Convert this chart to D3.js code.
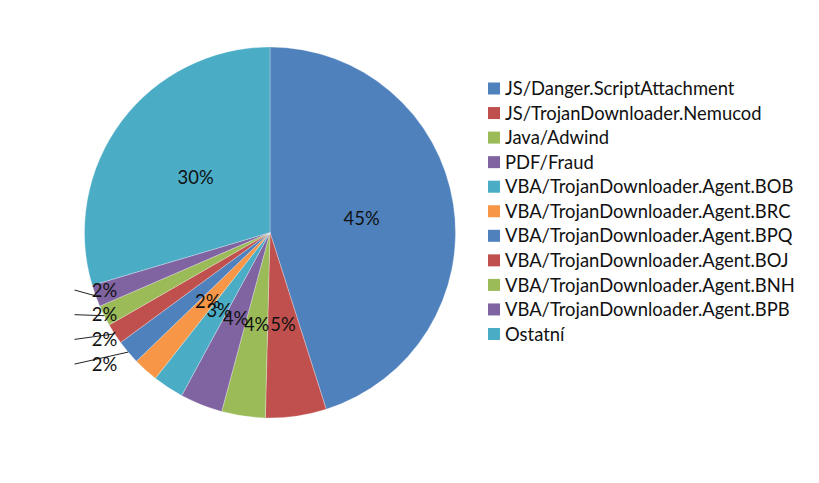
<!DOCTYPE html>
<html><head><meta charset="utf-8">
<script src="https://cdn.jsdelivr.net/npm/d3@7"></script>
<style>body{margin:0;background:#fff}svg{display:block}text{font-family:Lato,"Open Sans",sans-serif}</style>
</head><body><svg id="c" width="819" height="483"></svg>
<script>
const categories = ["JS/Danger.ScriptAttachment","JS/TrojanDownloader.Nemucod","Java/Adwind","PDF/Fraud","VBA/TrojanDownloader.Agent.BOB","VBA/TrojanDownloader.Agent.BRC","VBA/TrojanDownloader.Agent.BPQ","VBA/TrojanDownloader.Agent.BOJ","VBA/TrojanDownloader.Agent.BNH","VBA/TrojanDownloader.Agent.BPB","Ostatní"];
const values = [45.1,5.3,3.8,3.7,2.7,2.2,2.1,1.8,1.8,1.9,29.6];
const colors = ["#4F81BD","#C0504D","#9BBB59","#8064A2","#4BACC6","#F79646","#4F81BD","#C0504D","#9BBB59","#8064A2","#4BACC6"];
const outsideLabels = [9,8,7,6]; // top-to-bottom order of labels placed outside

const svg = d3.select("#c");
const cx = 270, cy = 232.5, r = 185.5, fs = 18.4;
const total = d3.sum(values);
const pie = d3.pie().sort(null).value(d=>d)(values);
const arc = d3.arc().innerRadius(0).outerRadius(r);
const g = svg.append("g").attr("transform",`translate(${cx},${cy})`);
g.selectAll("path").data(pie).join("path").attr("d",arc)
  .attr("fill",(d,i)=>colors[i]).attr("stroke","rgba(255,255,255,0.35)").attr("stroke-width",0.8);
const labelArc = d3.arc().innerRadius(r*0.5).outerRadius(r*0.5);
const fmt = v => Math.round(v/total*100)+"%";
g.selectAll("text.in").data(pie.filter((d,i)=>!outsideLabels.includes(i))).join("text")
  .attr("class","in").attr("transform",d=>`translate(${labelArc.centroid(d)})`)
  .attr("text-anchor","middle").attr("dy","0.36em").attr("font-size",fs).attr("fill","#111")
  .text(d=>fmt(d.value));
// outside labels with leader lines
const lx = -r + 20, ly0 = 57.5, lstep = 24.7;
outsideLabels.forEach((idx,k)=>{
  const d = pie[idx], a = (d.startAngle+d.endAngle)/2;
  const ex = r*Math.sin(a), ey = -r*Math.cos(a);
  const y = ly0 + k*lstep;
  g.append("line").attr("x1",lx-30).attr("y1",y).attr("x2",ex).attr("y2",ey)
    .attr("stroke","#222").attr("stroke-width",1);
  g.append("text").attr("x",lx).attr("y",y).attr("dy","0.36em").attr("text-anchor","middle")
    .attr("font-size",fs).attr("fill","#111").text(fmt(d.value));
});
// legend
const lg = svg.append("g").attr("transform","translate(488,88.5)");
const row = lg.selectAll("g").data(categories).join("g").attr("transform",(d,i)=>`translate(0,${i*24.55})`);
row.append("rect").attr("x",0).attr("y",-6).attr("width",12).attr("height",12).attr("fill",(d,i)=>colors[i]);
row.append("text").attr("x",17).attr("dy","0.36em").attr("font-size",fs).attr("fill","#111").text(d=>d);
</script></body></html>
